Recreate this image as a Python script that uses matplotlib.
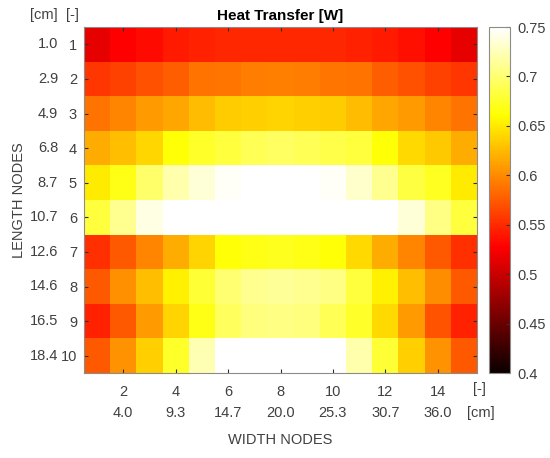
import numpy as np
import matplotlib
matplotlib.use('Agg')
import matplotlib.pyplot as plt
from matplotlib import transforms

plt.rcParams['font.family'] = ['Liberation Sans', 'DejaVu Sans']

# node numbers and positions in cm
width_nodes = list(range(1, 16))
length_nodes = list(range(1, 11))
width_ticks = [2, 4, 6, 8, 10, 12, 14]
width_cm = ['4.0', '9.3', '14.7', '20.0', '25.3', '30.7', '36.0']
length_cm = ['1.0', '2.9', '4.9', '6.8', '8.7', '10.7', '12.6', '14.6', '16.5', '18.4']

# heat transfer per node [W], one list per length node
row1 = [0.515, 0.528, 0.533, 0.541, 0.546, 0.548, 0.549, 0.549, 0.549, 0.548, 0.546, 0.541, 0.536, 0.528, 0.515]
row2 = [0.557, 0.562, 0.570, 0.577, 0.588, 0.590, 0.593, 0.595, 0.593, 0.590, 0.588, 0.577, 0.570, 0.562, 0.557]
row3 = [0.588, 0.598, 0.608, 0.616, 0.626, 0.634, 0.636, 0.639, 0.636, 0.634, 0.626, 0.616, 0.608, 0.598, 0.588]
row4 = [0.618, 0.627, 0.640, 0.663, 0.676, 0.683, 0.690, 0.694, 0.690, 0.687, 0.682, 0.663, 0.641, 0.633, 0.618]
row5 = [0.651, 0.668, 0.697, 0.721, 0.736, 0.747, 0.758, 0.760, 0.758, 0.747, 0.731, 0.711, 0.684, 0.673, 0.651]
row6 = [0.683, 0.711, 0.740, 0.760, 0.770, 0.775, 0.778, 0.780, 0.778, 0.775, 0.770, 0.760, 0.736, 0.707, 0.683]
row7 = [0.552, 0.575, 0.598, 0.618, 0.639, 0.663, 0.669, 0.671, 0.669, 0.663, 0.641, 0.618, 0.598, 0.575, 0.552]
row8 = [0.575, 0.603, 0.628, 0.654, 0.680, 0.700, 0.711, 0.714, 0.711, 0.707, 0.683, 0.654, 0.628, 0.601, 0.575]
row9 = [0.546, 0.575, 0.608, 0.639, 0.669, 0.693, 0.704, 0.707, 0.704, 0.690, 0.676, 0.641, 0.608, 0.572, 0.546]
row10 = [0.575, 0.605, 0.636, 0.676, 0.724, 0.755, 0.760, 0.762, 0.760, 0.755, 0.720, 0.680, 0.636, 0.605, 0.575]

heat = np.array([row1, row2, row3, row4, row5, row6, row7, row8, row9, row10])

txt = '#404040'

fig = plt.figure(figsize=(5.5, 4.58), dpi=100)
ax = fig.add_axes([84/550, 1 - 373/458, 393/550, 346/458])

im = ax.imshow(heat, cmap='hot', vmin=0.4, vmax=0.75, aspect='auto',
               extent=[0.5, 15.5, 10.5, 0.5], interpolation='nearest')

ax.set_xticks(width_ticks)
ax.set_xticklabels([str(t) for t in width_ticks])
ax.set_yticks(length_nodes)
ax.set_yticklabels([str(t) for t in length_nodes])
ax.tick_params(direction='in', length=3, width=0.8, top=True, right=True,
               labelsize=10.5, colors='#303030', labelcolor=txt)
ax.tick_params(axis='x', pad=9)
ax.tick_params(axis='y', pad=5)
for s in ax.spines.values():
    s.set_color('#8c8c8c')
    s.set_linewidth(0.8)

# second row of labels in cm
ty = transforms.blended_transform_factory(ax.transAxes, ax.transData)
for n, lab in zip(length_nodes, length_cm):
    ax.text(-0.066, n, lab, transform=ty, ha='right', va='center',
            fontsize=10.5, color=txt)
tx = transforms.blended_transform_factory(ax.transData, ax.transAxes)
for n, lab in zip(width_ticks, width_cm):
    ax.text(n, -0.115, lab, transform=tx, ha='center', va='center',
            fontsize=10.5, color=txt)

# unit headers
ax.text(-0.066, 1.015, '[cm]', transform=ax.transAxes, ha='right', va='bottom',
        fontsize=10.5, color=txt)
ax.text(-0.012, 1.015, '[-]', transform=ax.transAxes, ha='right', va='bottom',
        fontsize=10.5, color=txt)
ax.text(0.99, -0.047, '[-]', transform=ax.transAxes, ha='left', va='center',
        fontsize=10.5, color=txt)
ax.text(0.975, -0.115, '[cm]', transform=ax.transAxes, ha='left', va='center',
        fontsize=10.5, color=txt)

ax.set_title('Heat Transfer [W]', fontsize=11, fontweight='bold', pad=5)
fig.text(280/550, 1 - 440/458, 'WIDTH NODES', ha='center', va='center',
         fontsize=10.5, color=txt)
fig.text(19/550, 1 - 200/458, 'LENGTH NODES', ha='center', va='center',
         rotation=90, fontsize=10.5, color=txt)

# colorbar
cax = fig.add_axes([489/550, 1 - 373/458, 21/550, 346/458])
cb = fig.colorbar(im, cax=cax)
cb.set_ticks([0.4, 0.45, 0.5, 0.55, 0.6, 0.65, 0.7, 0.75])
cb.set_ticklabels(['0.4', '0.45', '0.5', '0.55', '0.6', '0.65', '0.7', '0.75'])
cax.tick_params(direction='in', length=3, width=0.8, labelsize=10.5,
                colors='#303030', labelcolor=txt, pad=5)
cb.outline.set_edgecolor('#8c8c8c')
cb.outline.set_linewidth(0.8)

fig.savefig('out.png', dpi=100)
